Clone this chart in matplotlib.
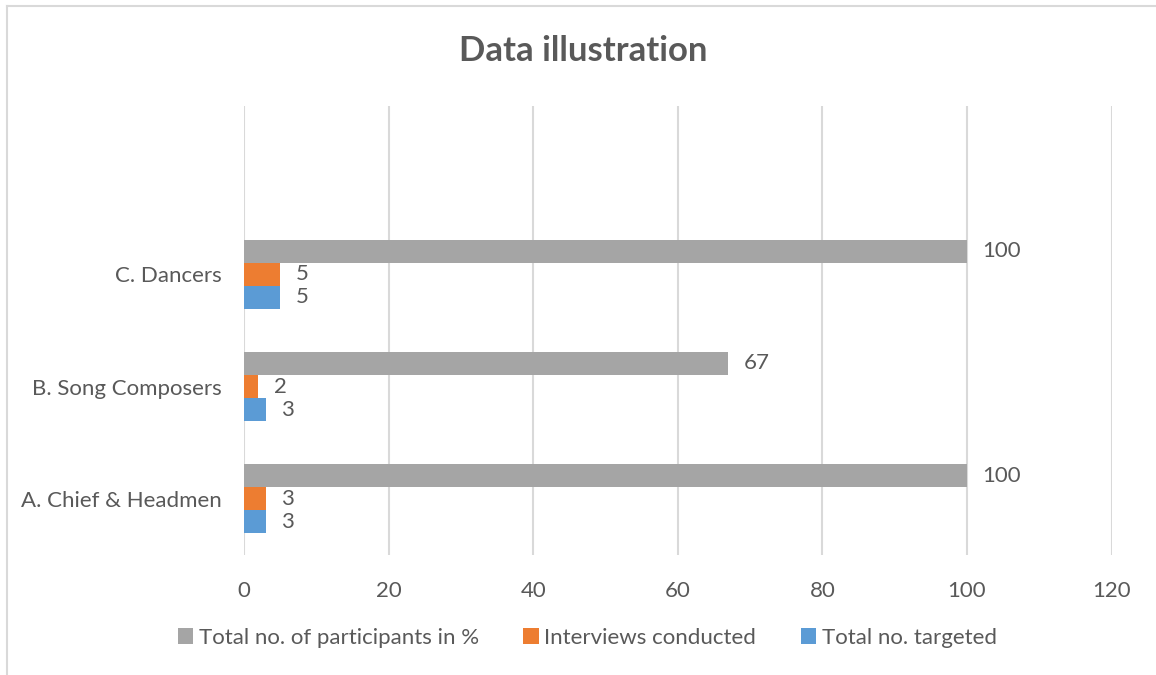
import numpy as np
import matplotlib.pyplot as plt
from matplotlib.lines import Line2D

plt.rcParams['font.family'] = ['Lato', 'DejaVu Sans']

# Chart data
categories = ['A. Chief & Headmen', 'B. Song Composers', 'C. Dancers']
series_names = ['Total no. of participants in %', 'Interviews conducted', 'Total no. targeted']
pct_participants = [100, 67, 100]
interviews_done = [3, 2, 5]
total_targeted = [3, 3, 5]
x_ticks = [0, 20, 40, 60, 80, 100, 120]

TEXT = '#595959'
GRID = '#D9D9D9'
colors = ['#A5A5A5', '#ED7D31', '#5B9BD5']

fig = plt.figure(figsize=(11.56, 6.75), dpi=100)
ax = fig.add_axes([0.2111, 0.1778, 0.7505, 0.6656])

y = np.arange(len(categories))
h = 0.205
series = [pct_participants, interviews_done, total_targeted]
offsets = [h, 0, -h]
for vals, off, col, name in zip(series, offsets, colors, series_names):
    bars = ax.barh(y + off, vals, height=h, color=col, label=name, zorder=3)
    for b, v in zip(bars, vals):
        ax.annotate(f'{v}', (b.get_width(), b.get_y() + b.get_height() / 2),
                    xytext=(11, 0), textcoords='offset points',
                    va='center', ha='left', fontsize=16, color=TEXT)

ax.set_xlim(0, 120)
ax.set_ylim(-0.5, 3.5)
ax.set_xticks(x_ticks)
ax.set_yticks(y)
ax.set_yticklabels(categories)
ax.tick_params(axis='both', length=0, labelsize=16, labelcolor=TEXT)
ax.tick_params(axis='x', pad=19)
ax.tick_params(axis='y', pad=16)
ax.grid(axis='x', color=GRID, linewidth=1.5, zorder=0)
for s in ax.spines.values():
    s.set_visible(False)

fig.text(0.5045, 0.925, 'Data illustration', ha='center', va='center',
         fontsize=25, fontweight='bold', color=TEXT)

handles, labels = ax.get_legend_handles_labels()
leg = fig.legend(handles, labels, loc='center', bbox_to_anchor=(0.508, 0.055),
                 ncol=3, frameon=False, fontsize=16, handlelength=0.7,
                 handleheight=0.7, handletextpad=0.25, columnspacing=2.0)
for t in leg.get_texts():
    t.set_color(TEXT)

# outer chart border (top and left only visible)
fig.add_artist(Line2D([0.006, 1.0], [0.991, 0.991], color=GRID, linewidth=1.5))
fig.add_artist(Line2D([0.006, 0.006], [0.0, 0.991], color=GRID, linewidth=1.5))

fig.savefig('out.png', dpi=100)
